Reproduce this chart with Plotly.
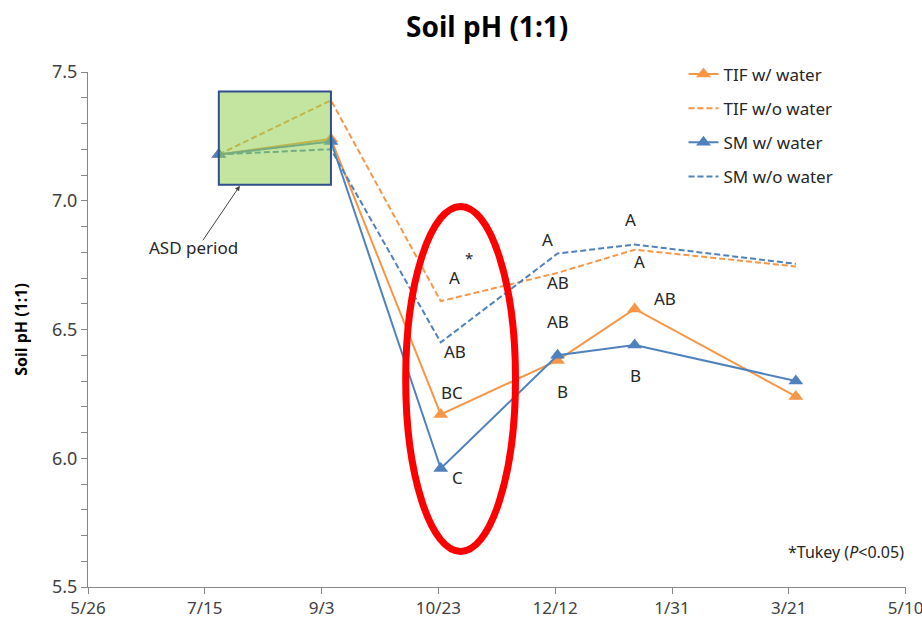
import plotly.graph_objects as go

# Sampling dates and soil pH (1:1) means per treatment
dates = ["2015-07-21", "2015-09-07", "2015-10-24", "2015-12-13", "2016-01-15", "2016-03-24"]
tif_w_water = [7.18, 7.24, 6.17, 6.38, 6.58, 6.24]
tif_wo_water = [7.18, 7.39, 6.61, 6.72, 6.81, 6.745]
sm_w_water = [7.18, 7.23, 5.96, 6.40, 6.44, 6.30]
sm_wo_water = [7.18, 7.20, 6.45, 6.795, 6.83, 6.755]

series_names = ["TIF w/ water", "TIF w/o water", "SM w/ water", "SM w/o water"]

# x-axis tick dates (every 50 days)
tick_dates = ["2015-05-26", "2015-07-15", "2015-09-03", "2015-10-23",
              "2015-12-12", "2016-01-31", "2016-03-21", "2016-05-10"]
tick_labels = ["5/26", "7/15", "9/3", "10/23", "12/12", "1/31", "3/21", "5/10"]

# Tukey letter groups: (date index, series, letter, x offset px, y offset px)
tukey_letters = [
    (2, "tif_wo", "A", 14, 24),
    (2, "sm_wo", "AB", 14, -9),
    (2, "tif_w", "BC", 11, 22),
    (2, "sm_w", "C", 17, -9),
    (3, "sm_wo", "A", -10, 14),
    (3, "tif_wo", "AB", 0, -10),
    (3, "tif_w", "AB", 0, 39),
    (3, "sm_w", "B", 5, -36),
    (4, "sm_wo", "A", -4, 25),
    (4, "tif_wo", "A", 5, -12),
    (4, "tif_w", "AB", 30, 10),
    (4, "sm_w", "B", 1, -31),
]

ORANGE = "#F79646"
BLUE = "#4F81BD"
FONT = "Noto Sans"

values = {
    "tif_w": tif_w_water,
    "tif_wo": tif_wo_water,
    "sm_w": sm_w_water,
    "sm_wo": sm_wo_water,
}

fig = go.Figure()

styles = [
    (tif_w_water, ORANGE, "solid", True),
    (tif_wo_water, ORANGE, "6px,3px", False),
    (sm_w_water, BLUE, "solid", True),
    (sm_wo_water, BLUE, "6px,3px", False),
]
for i, (name, (vals, color, dash, markers)) in enumerate(zip(series_names, styles)):
    fig.add_trace(go.Scatter(
        x=dates, y=vals, name=name, legendgroup=f"g{i}",
        mode="lines+markers" if markers else "lines",
        line=dict(color=color, width=2, dash=dash),
        marker=dict(symbol="triangle-up", size=13, color=color),
    ))

annotations = []
for idx, key, letter, dx, dy in tukey_letters:
    annotations.append(dict(
        x=dates[idx], y=values[key][idx], xref="x", yref="y",
        text=letter, showarrow=False, xshift=dx, yshift=dy,
        font=dict(family=FONT, size=17, color="#262626"),
    ))
# significance asterisk next to the first letter group
annotations.append(dict(
    x=dates[2], y=tif_wo_water[2], xref="x", yref="y", text="*",
    showarrow=False, xshift=28, yshift=43,
    font=dict(family=FONT, size=15, color="#262626"),
))
# ASD period label with arrow to the box
annotations.append(dict(
    x="2015-07-30", y=7.058, xref="x", yref="y", text="",
    showarrow=True, ax=-38, ay=56, arrowhead=2, arrowsize=1,
    arrowwidth=1, arrowcolor="#404040",
))
annotations.append(dict(
    x="2015-07-10", y=6.82, xref="x", yref="y", text="ASD period",
    showarrow=False, font=dict(family=FONT, size=17, color="#262626"),
))
annotations.append(dict(
    x=1.0, y=0.068, xref="paper", yref="paper", xanchor="right", yanchor="middle",
    text="*Tukey (<i>P</i><0.05)", showarrow=False,
    font=dict(family=FONT, size=16, color="#262626"),
))

shapes = [
    # ASD period box
    dict(type="rect", xref="x", yref="y", x0=dates[0], x1=dates[1],
         y0=7.062, y1=7.424, layer="above",
         fillcolor="rgba(146,208,80,0.55)",
         line=dict(color="#2F4F8F", width=2)),
    # highlight of the post-ASD sampling date
    dict(type="circle", xref="x", yref="y", x0="2015-10-09", x1="2015-11-25",
         y0=5.638, y1=6.978, layer="above",
         line=dict(color="#FF0000", width=7)),
]

fig.update_layout(
    width=922, height=643,
    margin=dict(l=88, r=16, t=72, b=56, autoexpand=False),
    paper_bgcolor="white", plot_bgcolor="white",
    font=dict(family=FONT, color="#404040"),
    title=dict(text="<b>Soil pH (1:1)</b>", x=0.488, xref="paper", xanchor="center",
               y=0.957, yref="container", yanchor="middle",
               font=dict(family=FONT, size=28, color="#000000")),
    showlegend=True,
    legend=dict(x=0.728, y=1.03, xanchor="left", yanchor="top",
                font=dict(family=FONT, size=17, color="#262626"),
                tracegroupgap=9, bgcolor="rgba(0,0,0,0)"),
    annotations=annotations,
    shapes=shapes,
)

fig.update_xaxes(
    type="date", range=["2015-05-26", "2016-05-10 04:00"],
    tickvals=tick_dates, ticktext=tick_labels, ticklabeloverflow="allow",
    automargin=False,
    showgrid=False, zeroline=False, showline=True, linecolor="#868686", linewidth=1,
    ticks="outside", ticklen=6, tickcolor="#868686",
    tickfont=dict(family=FONT, size=17, color="#404040"),
)
fig.update_yaxes(
    range=[5.5, 7.5], dtick=0.5, tickformat=".1f", automargin=False,
    showgrid=False, zeroline=False, showline=True, linecolor="#868686", linewidth=1,
    ticks="outside", ticklen=6, tickcolor="#868686",
    minor=dict(dtick=0.1, ticks="outside", ticklen=6, tickcolor="#868686"),
    tickfont=dict(family=FONT, size=18, color="#404040"),
    title=dict(text="<b>Soil pH (1:1)</b>", standoff=20,
               font=dict(family=FONT, size=16, color="#000000")),
)

fig.write_html("out.html")
